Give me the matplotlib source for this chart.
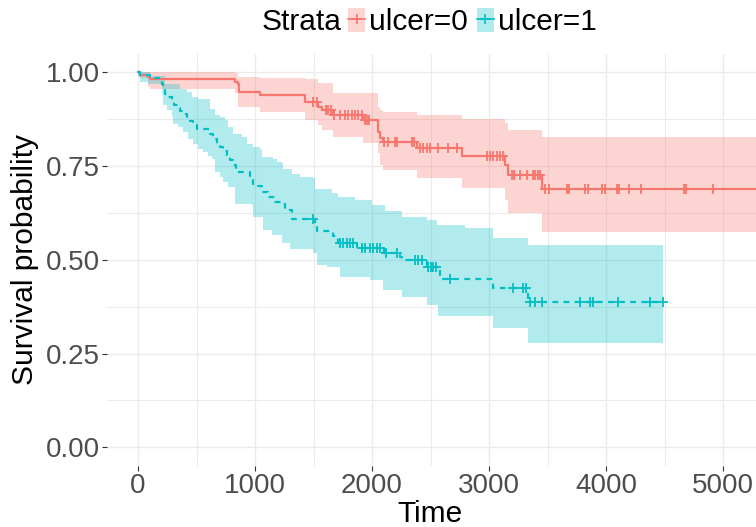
import numpy as np
import matplotlib
matplotlib.use("Agg")
import matplotlib.pyplot as plt
from matplotlib.patches import Patch
from matplotlib.lines import Line2D
from matplotlib.legend_handler import HandlerTuple

plt.rcParams['font.family'] = ['Liberation Sans', 'DejaVu Sans']

# ---------------- data ----------------
groups = ["ulcer=0", "ulcer=1"]
colors = ["#F8766D", "#00BFC4"]

# ulcer=0 : Kaplan-Meier steps
u0_time = [0, 17, 88, 103, 829, 857, 862, 1043, 1427, 1538, 1573, 1667, 1923,
           2051, 2068, 2094, 2385, 2769, 3137, 3162, 3453]
u0_surv = [1.0, 0.992, 0.987, 0.983, 0.974, 0.970, 0.948, 0.939, 0.921, 0.907,
           0.899, 0.886, 0.873, 0.841, 0.825, 0.814, 0.798, 0.777, 0.753, 0.726, 0.689]
u0_lower = [1.0, 0.985, 0.961, 0.956, 0.945, 0.907, 0.907, 0.894, 0.873, 0.859,
            0.846, 0.827, 0.811, 0.785, 0.753, 0.739, 0.718, 0.691, 0.659, 0.625, 0.574]
u0_upper = [1.0, 1.0, 1.0, 1.0, 0.998, 0.987, 0.987, 0.985, 0.982, 0.971,
            0.971, 0.945, 0.945, 0.907, 0.899, 0.894, 0.886, 0.875, 0.866, 0.846, 0.828]
u0_end = 5565
u0_censor = [1496, 1530, 1607, 1624, 1650, 1675, 1726, 1769, 1795, 1829, 1855, 1880,
             1915, 1940, 1957, 1974, 2103, 2137, 2197, 2214, 2342, 2359, 2410, 2436,
             2470, 2496, 2564, 2650, 2727, 2983, 3009, 3034, 3068, 3094, 3120, 3197,
             3214, 3265, 3325, 3376, 3393, 3419, 3436, 3479, 3513, 3667, 3684, 3821,
             3846, 3966, 3991, 4094, 4111, 4197, 4299, 4667, 4684, 4915]

# ulcer=1 : Kaplan-Meier steps
u1_time = [0, 17, 103, 145, 188, 203, 216, 231, 259, 288, 308, 342, 359, 387, 416,
           444, 473, 502, 615, 644, 673, 701, 729, 758, 786, 815, 838, 857, 957, 972,
           985, 1017, 1057, 1114, 1171, 1228, 1256, 1314, 1513, 1527, 1669, 1712,
           1869, 2103, 2239, 2254, 2467, 2581, 3037, 3336]
u1_surv = [1.0, 0.992, 0.989, 0.986, 0.982, 0.970, 0.953, 0.942, 0.934, 0.921,
           0.913, 0.905, 0.897, 0.889, 0.881, 0.871, 0.859, 0.849, 0.836, 0.822,
           0.809, 0.801, 0.790, 0.779, 0.766, 0.753, 0.742, 0.735, 0.723, 0.715,
           0.703, 0.697, 0.681, 0.668, 0.655, 0.650, 0.633, 0.610, 0.597, 0.577,
           0.564, 0.546, 0.531, 0.517, 0.508, 0.499, 0.481, 0.450, 0.424, 0.388]
u1_end = 4490
u1_censor = [1496, 1726, 1752, 1786, 1812, 1838, 1915, 1940, 1983, 2009, 2043, 2068,
             2120, 2214, 2367, 2393, 2427, 2479, 2504, 2521, 2547, 2667, 3205, 3291,
             3316, 3350, 3393, 3453, 3778, 3863, 3889, 4103, 4376, 4487]
# ulcer=1 : confidence band steps
u1_upper_time = [0, 103, 231, 359, 416, 459, 515, 615, 658, 701, 744, 772, 815, 886,
                 929, 985, 1043, 1057, 1156, 1185, 1228, 1242, 1314, 1385, 1498, 1513,
                 1656, 1712, 1855, 1997, 2111, 2254, 2467, 2553, 2795, 3037, 3336]
u1_upper = [1.0, 0.990, 0.970, 0.956, 0.947, 0.934, 0.929, 0.903, 0.885, 0.881,
            0.872, 0.854, 0.836, 0.827, 0.809, 0.801, 0.796, 0.774, 0.769, 0.761,
            0.757, 0.743, 0.730, 0.721, 0.717, 0.690, 0.677, 0.667, 0.659, 0.646,
            0.630, 0.615, 0.606, 0.592, 0.584, 0.559, 0.539]
u1_lower_time = [0, 17, 88, 203, 216, 245, 288, 302, 344, 387, 430, 473, 515, 558,
                 601, 630, 658, 701, 729, 772, 829, 972, 985, 1071, 1143, 1228, 1299,
                 1498, 1527, 1613, 1726, 1983, 2097, 2254, 2467, 2567, 3037, 3336]
u1_lower = [0.987, 0.974, 0.970, 0.939, 0.912, 0.899, 0.881, 0.863, 0.854, 0.841,
            0.823, 0.809, 0.796, 0.787, 0.778, 0.769, 0.734, 0.721, 0.708, 0.695,
            0.650, 0.646, 0.615, 0.579, 0.566, 0.544, 0.530, 0.517, 0.486, 0.481,
            0.454, 0.446, 0.419, 0.401, 0.379, 0.351, 0.319, 0.278]

x_ticks = [0, 1000, 2000, 3000, 4000, 5000]
y_ticks = [0.0, 0.25, 0.5, 0.75, 1.0]


def step_eval(grid, t, v):
    idx = np.searchsorted(np.asarray(t), grid, side='right') - 1
    return np.asarray(v)[np.clip(idx, 0, len(v) - 1)]


# ---------------- figure ----------------
W, H = 756, 527
fig = plt.figure(figsize=(W / 100, H / 100), dpi=100)
ax = fig.add_axes([107 / W, 1 - 466 / H, 1 - 107 / W, (466 - 53.6) / H])

xmin, xmax = -265, 5282
ax.set_xlim(xmin, xmax)
ax.set_ylim(-0.05, 1.05)

# bands
bands = [
    (u0_time, u0_lower, u0_time, u0_upper, u0_end, colors[0]),
    (u1_lower_time, u1_lower, u1_upper_time, u1_upper, u1_end, colors[1]),
]
for tl, lo, tu, hi, end, c in bands:
    grid = np.unique(np.concatenate([tl, tu, [end]]))
    lo_g = step_eval(grid, tl, lo)
    hi_g = step_eval(grid, tu, hi)
    ax.fill_between(grid, lo_g, hi_g, step='post', color=c, alpha=0.3,
                    linewidth=0, zorder=2)

# curves
curves = [
    (u0_time, u0_surv, u0_end, u0_censor, colors[0], '-'),
    (u1_time, u1_surv, u1_end, u1_censor, colors[1], (0, (2.6, 2.4))),
]
for t, s, end, cens, c, ls in curves:
    tt = np.append(t, end)
    ss = np.append(s, s[-1])
    ax.step(tt, ss, where='post', color=c, lw=1.6, linestyle=ls, zorder=3)
    cs = step_eval(np.asarray(cens), t, s)
    ax.plot(cens, cs, linestyle='none', marker='+', color=c, ms=7, mew=1.3,
            zorder=4)

# axes styling
ax.set_xticks(x_ticks)
ax.set_xticks([500, 1500, 2500, 3500, 4500], minor=True)
ax.set_yticks(y_ticks)
ax.set_yticks([0.125, 0.375, 0.625, 0.875], minor=True)
ax.set_yticklabels([f"{v:.2f}" for v in y_ticks])
ax.set_xticklabels([str(v) for v in x_ticks])
ax.grid(True, which='major', color='#EBEBEB', lw=1.0, zorder=0)
ax.grid(True, which='minor', color='#EBEBEB', lw=0.8, zorder=0)
ax.set_axisbelow(True)
for sp in ax.spines.values():
    sp.set_visible(False)
ax.tick_params(axis='both', which='major', length=3.5, width=0.8,
               color='#333333', labelsize=20, labelcolor='#4D4D4D', pad=1.5)
ax.tick_params(axis='both', which='minor', length=0)

title_fs = 21.5
ax.set_xlabel("Time", fontsize=title_fs, color='black')
ax.xaxis.set_label_coords((430 - 107) / (W - 107), (466 - 500) / (466 - 53.6))
ax.set_ylabel("Survival probability", fontsize=title_fs, color='black')
ax.yaxis.set_label_coords((11 - 107) / (W - 107), 0.5)
ax.yaxis.label.set_va('top')

# legend
fig.text(262 / W, 1 - 22 / H, "Strata", fontsize=title_fs, va='center', ha='left')
handles = [(Patch(facecolor=c, alpha=0.3, edgecolor='none'),
            Line2D([], [], color=c, lw=1.2, marker='+', ms=7, mew=1.2))
           for c in colors]
fig.legend(handles, groups, loc='center left',
           bbox_to_anchor=(348 / W, 1 - 22 / H), ncol=2, frameon=False,
           fontsize=title_fs, handlelength=0.58, handleheight=0.9,
           handletextpad=0.12, columnspacing=0.3, borderpad=0, borderaxespad=0,
           handler_map={tuple: HandlerTuple(ndivide=1)})

fig.savefig("out.png", dpi=100)
